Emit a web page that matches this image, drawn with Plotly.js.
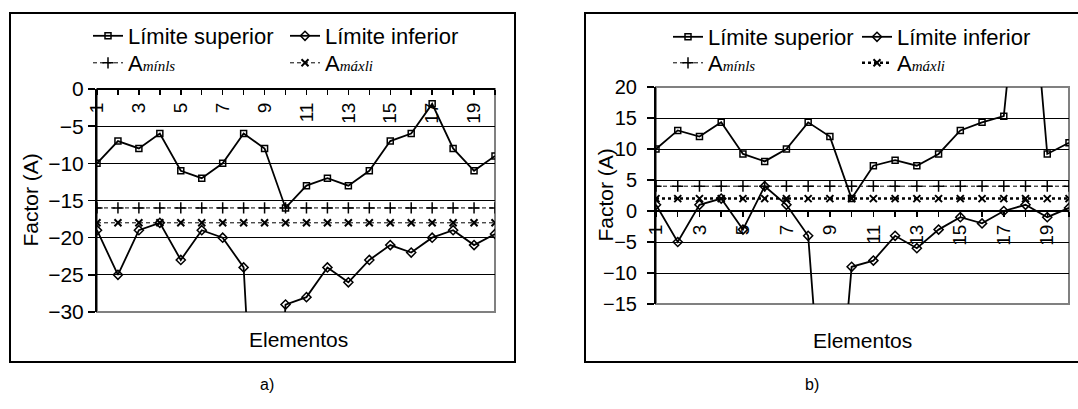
<!DOCTYPE html>
<html><head><meta charset="utf-8">
<script src="https://cdn.plot.ly/plotly-3.0.1.min.js"></script>
<style>html,body{margin:0;padding:0;background:#fff}#chart{width:1078px;height:409px}</style>
</head><body><div id="chart"></div>
<script>
// ---------- data ----------
const elements   = [1,2,3,4,5,6,7,8,9,10,11,12,13,14,15,16,17,18,19,20];
const tickLabels = ['1','','3','','5','','7','','9','','11','','13','','15','','17','','19',''];
const yTicksA = [0,-5,-10,-15,-20,-25,-30];
const yTicksB = [20,15,10,5,0,-5,-10,-15];

// chart a)
const supA = [-10,-7,-8,-6,-11,-12,-10,-6,-8,-16,-13,-12,-13,-11,-7,-6,-2,-8,-11,-9];
const infA = [-19,-25,-19,-18,-23,-19,-20,-24,-75,-29,-28,-24,-26,-23,-21,-22,-20,-19,-21,-19.5];
const minA = [-16,-16,-16,-16,-16,-16,-16,-16,-16,-16,-16,-16,-16,-16,-16,-16,-16,-16,-16,-16];
const maxA = [-18,-18,-18,-18,-18,-18,-18,-18,-18,-18,-18,-18,-18,-18,-18,-18,-18,-18,-18,-18];

// chart b)
const supB = [10,13,12,14.3,9.2,8,10,14.3,12,2,7.3,8.2,7.3,9.2,13,14.3,15.3,50,9.2,11];
const infB = [1,-5,1,2,-3,4,1,-4,-50,-9,-8,-4,-6,-3,-1,-2,0,1,-1,0.5];
const minB = [4,4,4,4,4,4,4,4,4,4,4,4,4,4,4,4,4,4,4,4];
const maxB = [2,2,2,2,2,2,2,2,2,2,2,2,2,2,2,2,2,2,2,2];

const names = ['Límite superior','Límite inferior',
  "A<span style=\"font-family:'Liberation Serif',serif;font-style:italic;font-size:15px\">mínls</span>",
  "A<span style=\"font-family:'Liberation Serif',serif;font-style:italic;font-size:15px\">máxli</span>"];
const panelLabels = ['a)','b)'];
const xTitle = 'Elementos';
const yTitle = 'Factor (A)';

// ---------- layout helpers ----------
const W = 1078, H = 409;
const px = v => v / W;
const py = v => 1 - v / H;
const domXA = [px(97), px(495)], domYA = [py(312), py(89)];
const domXB = [px(656), px(1069)], domYB = [py(304), py(87)];
const rangeA = [-30, 0], rangeB = [-15, 20];
const zeroPos = (dom, r) => dom[0] + (0 - r[0]) / (r[1] - r[0]) * (dom[1] - dom[0]);
const FONT = 'Liberation Sans, Arial, sans-serif';

function series(y, name, xa, ya, leg, kind, dotted) {
  const t = {x: elements, y: y, name: name, xaxis: xa, yaxis: ya, legend: leg,
    type: 'scatter', mode: 'lines+markers', cliponaxis: true};
  if (kind === 'sup') {
    t.line = {color: '#000', width: 1.8};
    t.marker = {symbol: 'square-open', size: 6, color: '#000', line: {width: 1.5, color: '#000'}};
  } else if (kind === 'inf') {
    t.line = {color: '#000', width: 1.8};
    t.marker = {symbol: 'diamond-open', size: 7, color: '#000', line: {width: 1.5, color: '#000'}};
  } else if (kind === 'min') {
    t.line = {color: '#000', width: 1, dash: '4px,3px'};
    t.marker = {symbol: 'cross-thin-open', size: 8, color: '#000', line: {width: 1.5, color: '#000'}};
  } else {
    t.line = dotted ? {color: '#000', width: 2.5, dash: 'dot'} : {color: '#000', width: 1, dash: '4px,3px'};
    t.marker = {symbol: 'x-thin-open', size: 7, color: '#000', line: {width: 2, color: '#000'}};
  }
  return t;
}

const data = [
  series(supA, names[0], 'x', 'y', 'legend', 'sup'),
  series(infA, names[1], 'x', 'y', 'legend', 'inf'),
  series(minA, names[2], 'x', 'y', 'legend2', 'min'),
  series(maxA, names[3], 'x', 'y', 'legend2', 'max', false),
  series(supB, names[0], 'x2', 'y2', 'legend3', 'sup'),
  series(infB, names[1], 'x2', 'y2', 'legend3', 'inf'),
  series(minB, names[2], 'x2', 'y2', 'legend4', 'min'),
  series(maxB, names[3], 'x2', 'y2', 'legend4', 'max', true)
];

function xAxis(dom, pos) {
  return {domain: dom, anchor: 'free', position: pos, range: [1, 20], showline: true,
    linecolor: '#000', linewidth: 2, ticks: 'outside', ticklen: 5, tickwidth: 1.5, tickcolor: '#000',
    tickvals: elements, ticktext: tickLabels, tickangle: -90, showgrid: false, zeroline: false,
    tickfont: {size: 19, color: '#000', family: FONT}, automargin: false, fixedrange: true};
}
function yAxis(dom, anchor, range, ticks, fs, standoff) {
  return {domain: dom, anchor: anchor, range: range, tickvals: ticks, showline: true,
    linecolor: '#000', linewidth: 2, ticks: 'outside', ticklen: 7, tickwidth: 1.5, tickcolor: '#000',
    showgrid: true, gridcolor: '#000', gridwidth: 1, zeroline: false,
    ticklabelstandoff: standoff,
    tickfont: {size: fs, color: '#000', family: FONT}, automargin: false, fixedrange: true};
}
function legend(x, y, ew) {
  return {x: x, y: y, xanchor: 'left', yanchor: 'middle', orientation: 'h', entrywidth: ew,
    font: {size: 22, color: '#000', family: FONT}, bgcolor: 'rgba(0,0,0,0)', borderwidth: 0,
    itemwidth: 30, tracegroupgap: 0};
}
function note(text, x, y, size, angle) {
  return {text: text, xref: 'paper', yref: 'paper', x: x, y: y, xanchor: 'center', yanchor: 'middle',
    textangle: angle || 0, showarrow: false, font: {size: size, color: '#000', family: FONT}};
}

const layout = {
  width: W, height: H, margin: {l: 0, r: 0, t: 0, b: 0},
  paper_bgcolor: '#fff', plot_bgcolor: 'rgba(0,0,0,0)',
  font: {family: FONT, color: '#000'},
  showlegend: true, hovermode: false,
  xaxis: xAxis(domXA, zeroPos(domYA, rangeA)),
  yaxis: yAxis(domYA, 'x', rangeA, yTicksA, 21, 0),
  xaxis2: xAxis(domXB, zeroPos(domYB, rangeB)),
  yaxis2: yAxis(domYB, 'x2', rangeB, yTicksB, 20, 6),
  legend: legend(px(88), py(36), 152),
  legend2: legend(px(88), py(63), 152),
  legend3: legend(px(668), py(37), 144),
  legend4: legend(px(668), py(63), 144),
  shapes: [
    {type: 'rect', xref: 'paper', yref: 'paper', x0: px(10), x1: px(515), y0: py(362), y1: py(13),
      line: {color: '#000', width: 2}},
    {type: 'rect', xref: 'paper', yref: 'paper', x0: px(585), x1: px(1081), y0: py(362), y1: py(13),
      line: {color: '#000', width: 2}},
    {type: 'rect', xref: 'x domain', yref: 'y domain', x0: 0, x1: 1, y0: 0, y1: 1, layer: 'below',
      line: {color: '#808080', width: 2}},
    {type: 'rect', xref: 'x2 domain', yref: 'y2 domain', x0: 0, x1: 1, y0: 0, y1: 1, layer: 'below',
      line: {color: '#808080', width: 2}}
  ],
  annotations: [
    note(yTitle, px(30), (domYA[0] + domYA[1]) / 2, 21, -90),
    note(xTitle, px(298), py(339), 21),
    note(yTitle, px(605), (domYB[0] + domYB[1]) / 2, 21, -90),
    note(xTitle, px(862), py(340), 21),
    note(panelLabels[0], px(267), py(384), 16),
    note(panelLabels[1], px(812), py(384), 16)
  ]
};

Plotly.newPlot('chart', data, layout, {staticPlot: true, displayModeBar: false});
</script>
</body></html>
